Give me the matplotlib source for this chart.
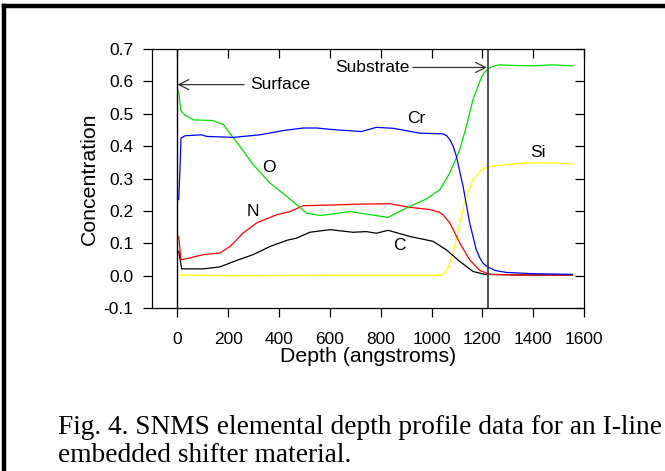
import matplotlib
matplotlib.use("Agg")
import matplotlib.pyplot as plt
from matplotlib.lines import Line2D

# SNMS depth profile, concentration vs depth (angstroms)
o_depth = [5, 13, 30, 63, 141, 181, 246, 298, 364, 430, 469, 508, 560, 588, 678, 744,
           829, 901, 980, 1032, 1072, 1111, 1137, 1163, 1190, 1205, 1222, 1240, 1268, 1330,
           1399, 1477, 1554]
o_conc = [0.57, 0.51, 0.495, 0.481, 0.479, 0.466, 0.399, 0.343, 0.286, 0.245, 0.219, 0.193,
          0.186, 0.188, 0.198, 0.19, 0.18, 0.209, 0.237, 0.265, 0.317, 0.389, 0.461, 0.543,
          0.6, 0.625, 0.638, 0.646, 0.651, 0.649, 0.648, 0.651, 0.648]

cr_depth = [5, 10, 14, 30, 95, 115, 220, 325, 416, 495, 547, 613, 724, 783, 849, 954,
            1045, 1060, 1072, 1085, 1098, 1124, 1150, 1176, 1190, 1202, 1215, 1229, 1250,
            1294, 1400, 1554]
cr_conc = [0.235, 0.33, 0.425, 0.432, 0.435, 0.43, 0.427, 0.435, 0.448, 0.456, 0.456, 0.451,
           0.445, 0.458, 0.455, 0.44, 0.438, 0.432, 0.42, 0.4, 0.368, 0.276, 0.163, 0.08,
           0.055, 0.039, 0.03, 0.024, 0.016, 0.01, 0.006, 0.004]

n_depth = [5, 14, 50, 102, 167, 207, 259, 312, 390, 443, 495, 600, 719, 836, 915, 994,
           1030, 1045, 1072, 1111, 1150, 1190, 1229, 1350, 1554]
n_conc = [0.121, 0.049, 0.055, 0.065, 0.07, 0.09, 0.132, 0.163, 0.188, 0.198, 0.216, 0.218,
          0.221, 0.222, 0.211, 0.204, 0.196, 0.188, 0.163, 0.101, 0.049, 0.016, 0.004,
          0.002, 0.002]

c_depth = [5, 17, 102, 167, 233, 298, 364, 430, 469, 521, 600, 691, 744, 783, 829, 915,
           1006, 1058, 1111, 1163, 1210, 1350, 1554]
c_conc = [0.075, 0.021, 0.021, 0.027, 0.047, 0.065, 0.09, 0.109, 0.116, 0.134, 0.142, 0.134,
          0.136, 0.131, 0.14, 0.121, 0.106, 0.08, 0.044, 0.013, 0.004, 0.002, 0.002]

si_depth = [5, 200, 600, 1000, 1045, 1065, 1085, 1111, 1137, 1163, 1196, 1229, 1294, 1373,
            1477, 1554]
si_conc = [0.002, 0.0, 0.001, 0.001, 0.002, 0.024, 0.07, 0.163, 0.245, 0.296, 0.327, 0.337,
           0.343, 0.348, 0.348, 0.345]

surface_depth = 0
substrate_depth = 1222

x_ticks = [0, 200, 400, 600, 800, 1000, 1200, 1400, 1600]
y_ticks = [-0.1, 0.0, 0.1, 0.2, 0.3, 0.4, 0.5, 0.6, 0.7]

caption = ["Fig. 4. SNMS elemental depth profile data for an I-line",
           "embedded shifter material."]

plt.rcParams['font.family'] = ['Liberation Sans', 'DejaVu Sans']

fig = plt.figure(figsize=(6.65, 4.71), dpi=100)
ax = fig.add_axes([0.2286, 0.346, 0.6496, 0.55])

ax.plot(si_depth, si_conc, color='#ffff00', lw=0.9)
ax.plot(c_depth, c_conc, color='black', lw=0.9)
ax.plot(n_depth, n_conc, color='#ff0000', lw=0.9)
ax.plot(o_depth, o_conc, color='#00e000', lw=0.9)
ax.plot(cr_depth, cr_conc, color='#0000ff', lw=0.9)

ax.axvline(surface_depth, color='black', lw=1.0)
ax.axvline(substrate_depth, color='#444444', lw=1.3)

ax.set_xlim(-100, 1600)
ax.set_ylim(-0.1, 0.7)
ax.set_xticks(x_ticks)
ax.set_yticks(y_ticks)
ax.set_yticklabels([f"{v:.1f}" for v in y_ticks])
ax.tick_params(axis='both', labelsize=12.5, length=6.5, width=0.9, direction='out')
ax.tick_params(axis='x', top=True, pad=11)
ax.tick_params(axis='y', right=True, pad=7)
# inward ticks on the top and right spines
for t in ax.xaxis.get_major_ticks():
    t.tick2line.set_marker(3)
for t in ax.yaxis.get_major_ticks():
    t.tick2line.set_marker(0)
for s in ax.spines.values():
    s.set_linewidth(0.9)

ax.set_xlabel("Depth (angstroms)", fontsize=15.3, labelpad=0)
ax.set_ylabel("Concentration", fontsize=15.3, labelpad=3)

# surface / substrate markers
arrow = dict(arrowstyle='->', color='#333333', lw=0.9, mutation_scale=18, shrinkA=0, shrinkB=0)
ax.annotate('', xy=(surface_depth, 0.59), xytext=(262, 0.59), arrowprops=arrow)
ax.text(285, 0.59, "Surface", fontsize=12.5, va='center', ha='left')
ax.annotate('', xy=(substrate_depth - 4, 0.643), xytext=(926, 0.643), arrowprops=arrow)
ax.text(914, 0.643, "Substrate", fontsize=12.5, va='center', ha='right')

ax.text(939, 0.485, "Cr", fontsize=12.5, ha='center', va='center')
ax.text(1419, 0.38, "Si", fontsize=12.5, ha='center', va='center')
ax.text(873, 0.093, "C", fontsize=12.5, ha='center', va='center')
ax.text(358, 0.333, "O", fontsize=12.5, ha='center', va='center')
ax.text(295, 0.198, "N", fontsize=12.5, ha='center', va='center')

# page frame around the figure
fig.add_artist(Line2D([4 / 665, 4 / 665], [0, 1 - 6 / 471], transform=fig.transFigure,
                      color='black', lw=3.2))
fig.add_artist(Line2D([4 / 665, 1], [1 - 6 / 471, 1 - 6 / 471], transform=fig.transFigure,
                      color='black', lw=3.2))

fig.text(58 / 665, 1 - 427 / 471, caption[0], fontsize=19.7, family='Liberation Serif',
         va='center', ha='left')
fig.text(58 / 665, 1 - 455 / 471, caption[1], fontsize=19.7, family='Liberation Serif',
         va='center', ha='left')

fig.savefig("out.png", dpi=100)
